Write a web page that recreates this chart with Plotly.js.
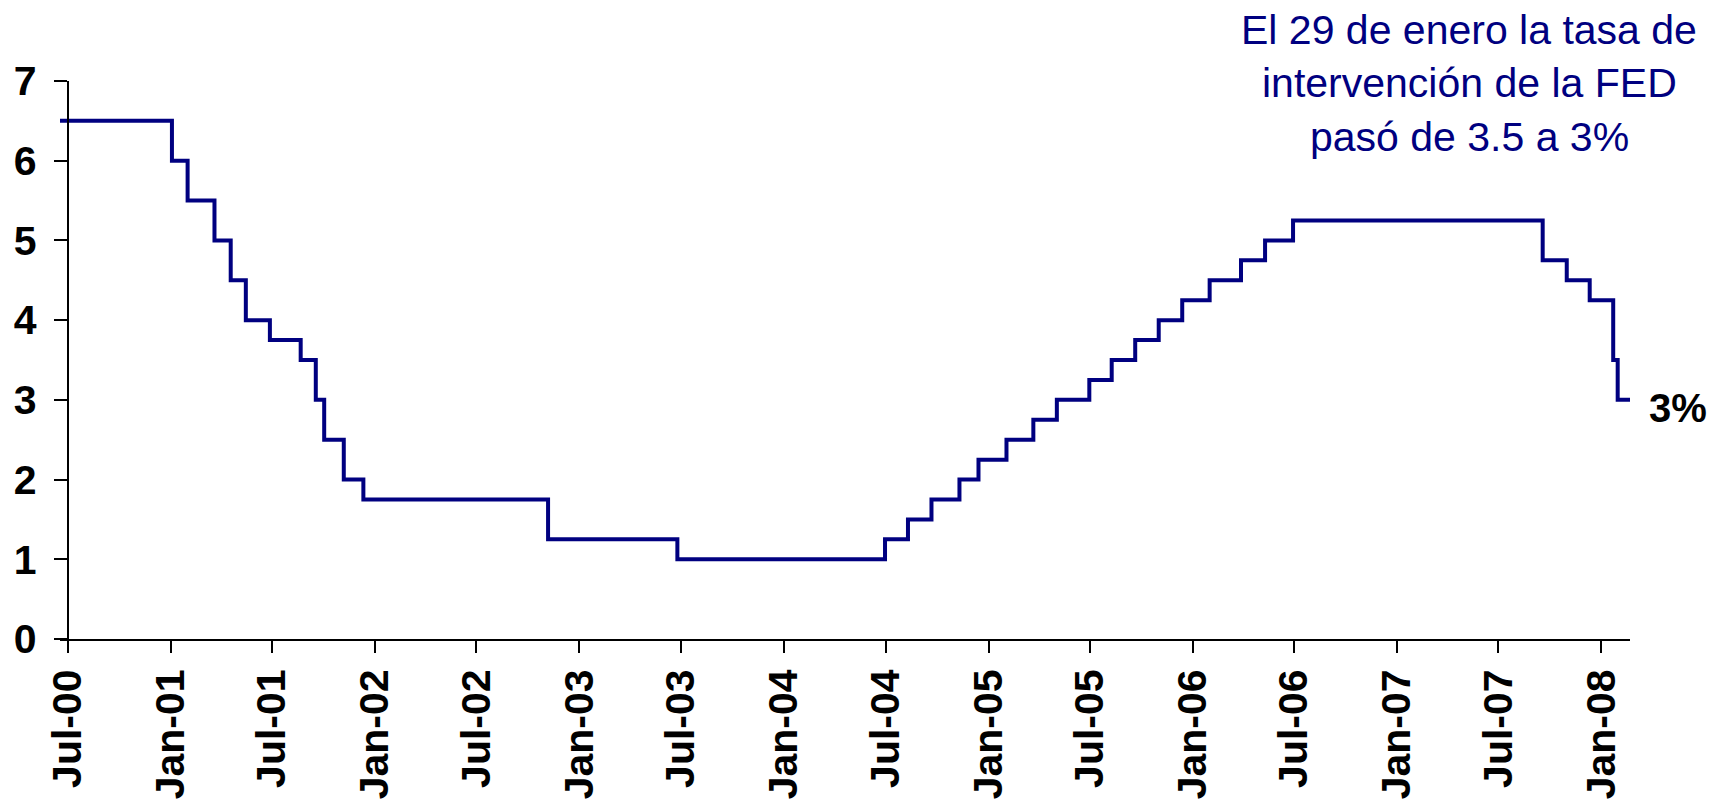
<!DOCTYPE html>
<html>
<head>
<meta charset="utf-8">
<script src="https://cdn.plot.ly/plotly-3.0.1.min.js"></script>
<style>html,body{margin:0;padding:0;background:#fff;}#chart{width:1712px;height:805px;}</style>
</head>
<body>
<div id="chart"></div>
<script>
// Fed funds target rate: change dates and the rate in effect from that date
const changeDates = [
  "2000-06-17","2001-01-03","2001-01-31","2001-03-20","2001-04-18","2001-05-15",
  "2001-06-27","2001-08-21","2001-09-17","2001-10-02","2001-11-06","2001-12-11",
  "2002-11-06","2003-06-25","2004-06-30","2004-08-10","2004-09-21","2004-11-10",
  "2004-12-14","2005-02-02","2005-03-22","2005-05-03","2005-06-30","2005-08-09",
  "2005-09-20","2005-11-01","2005-12-13","2006-01-31","2006-03-28","2006-05-10",
  "2006-06-29","2007-09-18","2007-10-31","2007-12-11","2008-01-22","2008-01-30",
  "2008-02-21"
];
const rates = [
  6.5,6.0,5.5,5.0,4.5,4.0,
  3.75,3.5,3.0,2.5,2.0,1.75,
  1.25,1.0,1.25,1.5,1.75,2.0,
  2.25,2.5,2.75,3.0,3.25,3.5,
  3.75,4.0,4.25,4.5,4.75,5.0,
  5.25,4.75,4.5,4.25,3.5,3.0,
  3.0
];
const tickDates = [
  "2000-07-01","2001-01-01","2001-07-01","2002-01-01","2002-07-01","2003-01-01",
  "2003-07-01","2004-01-01","2004-07-01","2005-01-01","2005-07-01","2006-01-01",
  "2006-07-01","2007-01-01","2007-07-01","2008-01-01"
];
const tickLabels = [
  "Jul-00","Jan-01","Jul-01","Jan-02","Jul-02","Jan-03",
  "Jul-03","Jan-04","Jul-04","Jan-05","Jul-05","Jan-06",
  "Jul-06","Jan-07","Jul-07","Jan-08"
];
const yTicks = [0,1,2,3,4,5,6,7];
const noteLines = ["El 29 de enero la tasa de", "intervención de la FED", "pasó de 3.5 a 3%"];
const endLabel = "3%";

const FONT = "Liberation Sans, Arial, Helvetica, sans-serif";
const rangeStart = "2000-06-17", rangeEnd = "2008-02-21";
const ms = s => new Date(s + "T00:00:00Z").getTime();
const yPos = (ms(tickDates[0]) - ms(rangeStart)) / (ms(rangeEnd) - ms(rangeStart));

const trace = {
  x: changeDates, y: rates, type: "scatter", mode: "lines",
  line: {shape: "hv", color: "#000080", width: 4},
  hoverinfo: "x+y"
};

// note lines: centers in pixels from top, converted to paper fraction of plot area
const plotTop = 81, plotBottom = 805 - 166;
const lineCenters = [30, 83, 137];
const noteAnns = noteLines.map((t, i) => ({
  text: t, xref: "paper", yref: "paper", x: 0.8975,
  y: (plotBottom - lineCenters[i]) / (plotBottom - plotTop),
  xanchor: "center", yanchor: "middle", showarrow: false,
  font: {family: FONT, size: 41, color: "#000080"}
}));

const layout = {
  width: 1712, height: 805,
  margin: {l: 60, r: 82, t: plotTop, b: 166},
  paper_bgcolor: "#ffffff", plot_bgcolor: "#ffffff",
  showlegend: false,
  font: {family: FONT, color: "#000"},
  xaxis: {
    type: "date", range: [rangeStart, rangeEnd],
    tickmode: "array", tickvals: tickDates, ticktext: tickLabels,
    tickangle: -90, ticks: "outside", ticklen: 12, tickwidth: 2, tickcolor: "#000",
    showline: true, linecolor: "#000", linewidth: 2,
    showgrid: false, zeroline: false,
    tickfont: {family: FONT, size: 41, color: "#000", weight: "bold"},
    ticklabelstandoff: 0
  },
  yaxis: {
    range: [0, 7], tickvals: yTicks,
    anchor: "free", position: yPos,
    ticks: "outside", ticklen: 13, tickwidth: 2, tickcolor: "#000",
    showline: true, linecolor: "#000", linewidth: 2,
    showgrid: false, zeroline: false,
    tickfont: {family: FONT, size: 41, color: "#000", weight: "bold"},
    ticklabelstandoff: 9
  },
  annotations: noteAnns.concat([
    {text: "<b>" + endLabel + "</b>", xref: "paper", yref: "y", x: 1.0108, y: 2.895,
     xanchor: "left", yanchor: "middle", showarrow: false,
     font: {family: FONT, size: 40, color: "#000"}}
  ])
};

Plotly.newPlot("chart", [trace], layout, {displayModeBar: false, staticPlot: true});
</script>
</body>
</html>
